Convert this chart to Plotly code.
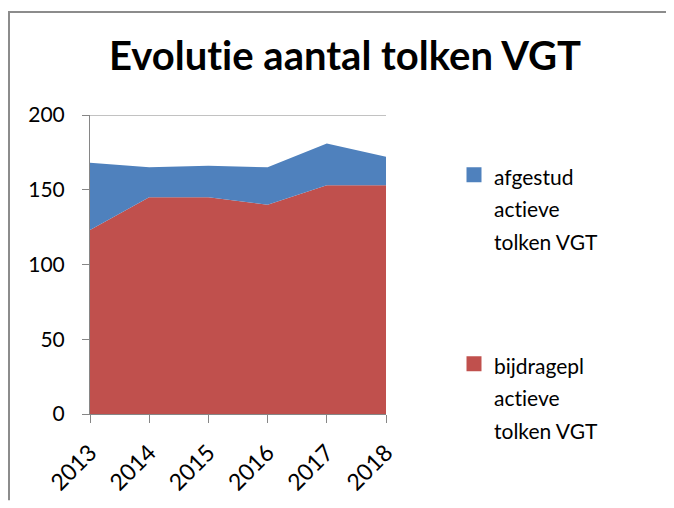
import plotly.graph_objects as go

years = [2013, 2014, 2015, 2016, 2017, 2018]
year_labels = ["2013", "2014", "2015", "2016", "2017", "2018"]
bijdragepl = [123, 145, 145, 140, 153, 153]
afgestud = [45, 20, 21, 25, 28, 19]
y_ticks = [0, 50, 100, 150, 200]

title_text = "Evolutie aantal tolken VGT"
name_afgestud = "afgestud<br>actieve<br>tolken VGT"
name_bijdragepl = "bijdragepl<br>actieve<br>tolken VGT"

BLUE = "#4F81BD"
RED = "#C0504D"
GRAY = "#868686"
FONT = "Lato"

# page body has an 8px margin, so the figure is 8px smaller and shifted
W, H = 666, 500
L, R, T, B = 82, 288, 107, 88
PW, PH = W - L - R, H - T - B

def px_x(px):
    return (px - L) / PW

def px_y(py):
    return (H - B - py) / PH

fig = go.Figure()
fig.add_trace(go.Scatter(x=years, y=bijdragepl, stackgroup="one", mode="lines",
                         line=dict(width=0, color=RED), fillcolor=RED,
                         showlegend=False, name="bijdragepl"))
fig.add_trace(go.Scatter(x=years, y=afgestud, stackgroup="one", mode="lines",
                         line=dict(width=0, color=BLUE), fillcolor=BLUE,
                         showlegend=False, name="afgestud"))

def wrap(t, size=None):
    style = "font-variant-ligatures:none"
    if size:
        style += ";font-size:%dpx" % size
    return '<span style="%s">%s</span>' % (style, t)

fig.add_trace(go.Scatter(x=[None], y=[None], mode="markers",
                         marker=dict(symbol="square", size=15, color=BLUE),
                         name=wrap(name_afgestud, 21), legend="legend"))
fig.add_trace(go.Scatter(x=[None], y=[None], mode="markers",
                         marker=dict(symbol="square", size=15, color=RED),
                         name=wrap(name_bijdragepl, 21), legend="legend2"))

legend_common = dict(font=dict(family=FONT, size=25, color="#000"),
                     bgcolor="rgba(0,0,0,0)", valign="top",
                     xref="container", yref="container",
                     xanchor="left", yanchor="top", itemclick=False)
fig.update_layout(
    legend=dict(x=446 / W, y=1 - 144 / H, **legend_common),
    legend2=dict(x=446 / W, y=1 - 333 / H, **legend_common),
)

fig.update_layout(
    width=W, height=H, autosize=False,
    margin=dict(l=L, r=R, t=T, b=B, pad=0),
    paper_bgcolor="white", plot_bgcolor="white",
    font=dict(family=FONT, size=21, color="#000"),
    title=dict(text="<b>" + wrap(title_text) + "</b>",
               font=dict(family=FONT, size=40, color="#000"),
               x=337 / W, xanchor="center", xref="container",
               y=1 - 48 / H, yanchor="middle", yref="container"),
    xaxis=dict(range=[2013, 2018], tickmode="array", tickvals=years,
               ticktext=year_labels, tickangle=-45, ticks="outside",
               ticklen=8, tickcolor=GRAY, showline=True, linecolor=GRAY,
               linewidth=1, showgrid=False, zeroline=False,
               ticklabelstandoff=7,
               tickfont=dict(family=FONT, size=23, color="#000")),
    yaxis=dict(range=[0, 200], tickmode="array", tickvals=y_ticks,
               ticks="outside", ticklen=7, tickcolor=GRAY, showline=True,
               linecolor=GRAY, linewidth=1, showgrid=False, zeroline=False,
               ticklabelstandoff=13,
               tickfont=dict(family=FONT, size=21, color="#000")),
    shapes=[
        dict(type="line", xref="x", yref="y", x0=2013, x1=2018, y0=200, y1=200,
             line=dict(color=GRAY, width=1), layer="above"),
        dict(type="line", xref="paper", yref="paper",
             x0=px_x(0), x1=px_x(W), y0=px_y(2), y1=px_y(2),
             line=dict(color="#8C8C8C", width=2)),
        dict(type="line", xref="paper", yref="paper",
             x0=px_x(1), x1=px_x(1), y0=px_y(1), y1=px_y(H),
             line=dict(color="#8C8C8C", width=2)),
    ],
)

fig.write_html("out.html")
